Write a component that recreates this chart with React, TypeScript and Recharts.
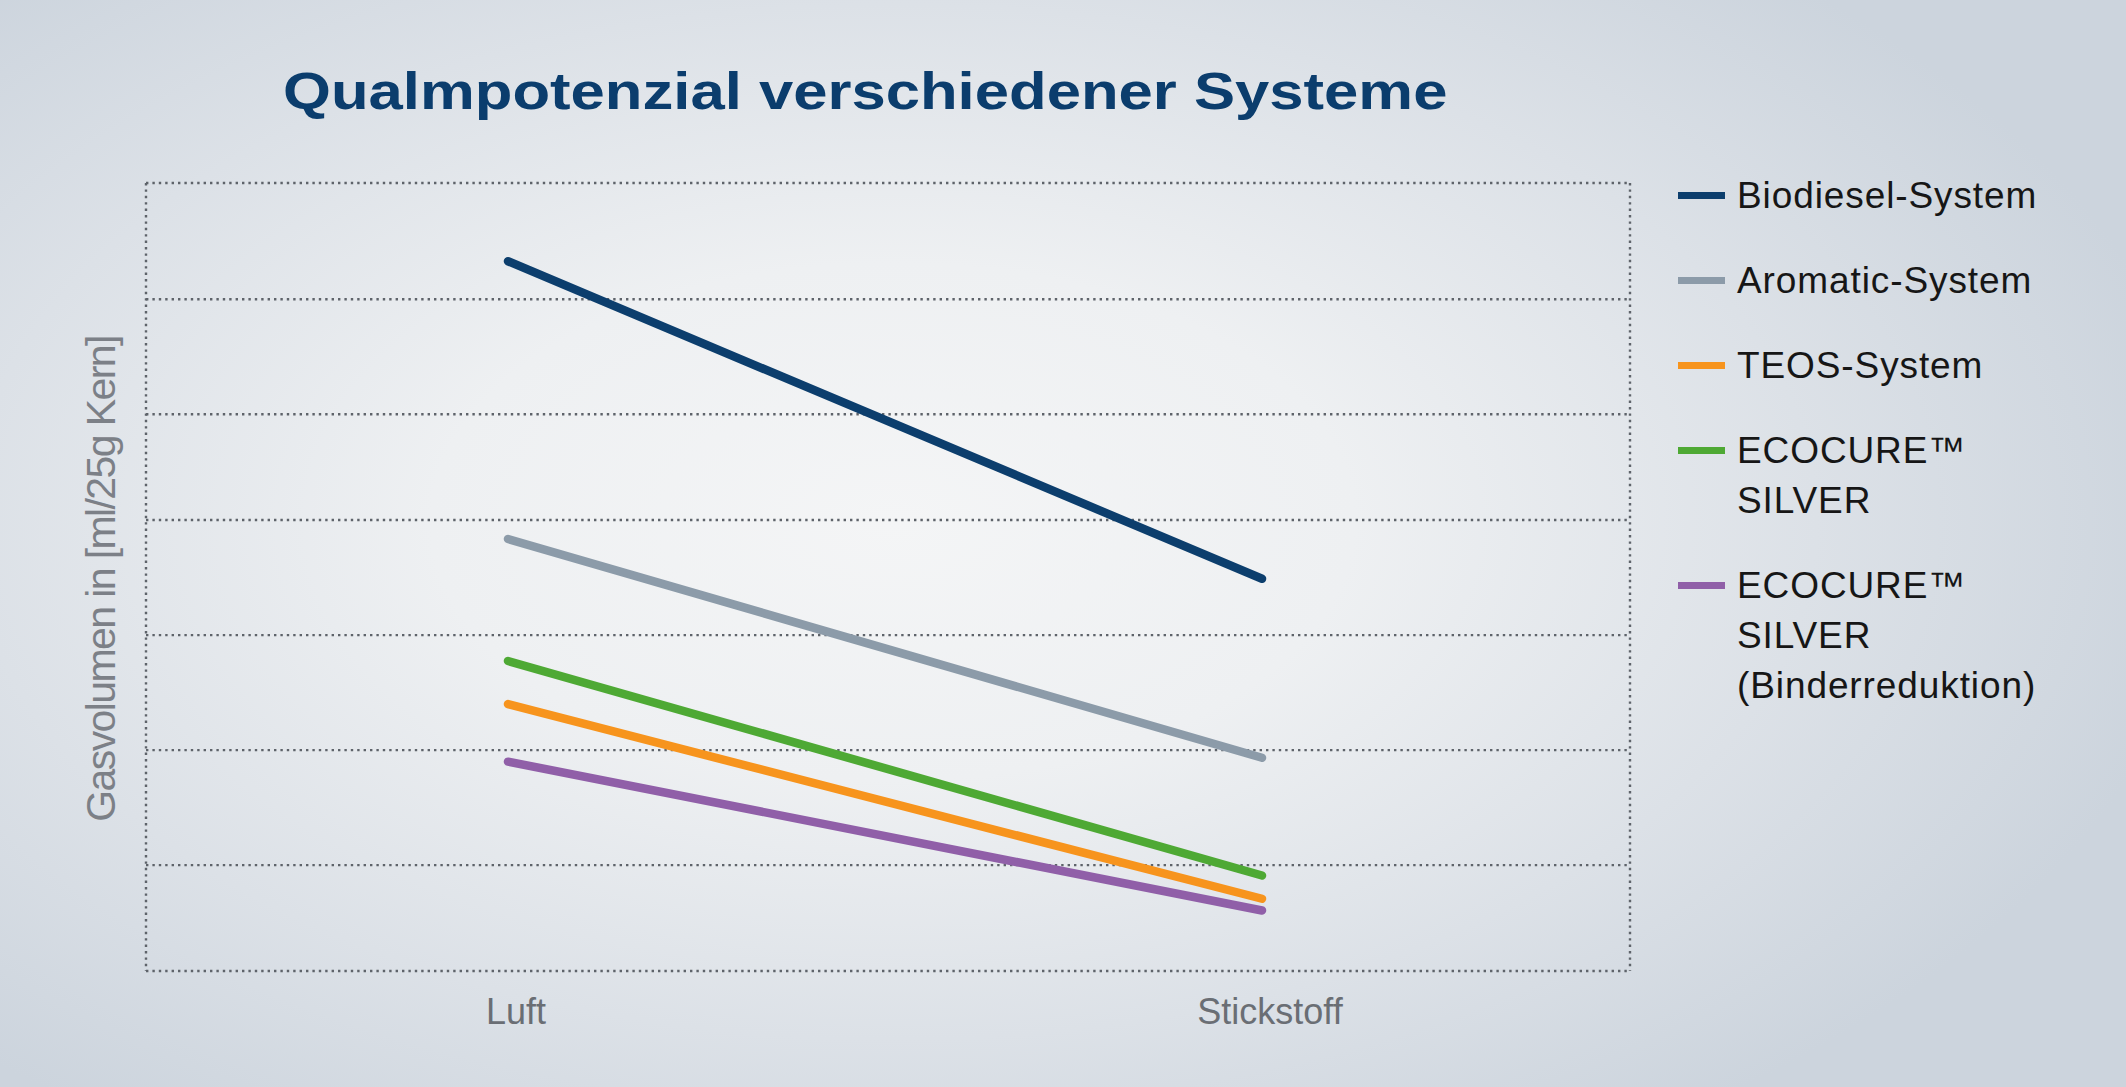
import React from 'react';
import {
  LineChart,
  Line,
  XAxis,
  YAxis,
  Legend,
  ReferenceLine,
} from 'recharts';

const categories = ['Luft', 'Stickstoff'];
const biodiesel = [6.17, 3.41];
const aromatic = [3.755, 1.854];
const teos = [2.32, 0.628];
const ecocure = [2.695, 0.83];
const ecocureBinder = [1.82, 0.526];
const yTicks = [0, 0.92, 1.92, 2.92, 3.92, 4.84, 5.84, 6.85];

const seriesKeys = ['biodiesel', 'aromatic', 'teos', 'ecocure', 'ecocureBinder'];
const seriesNames = [
  'Biodiesel-System',
  'Aromatic-System',
  'TEOS-System',
  'ECOCURE™\nSILVER',
  'ECOCURE™\nSILVER\n(Binderreduktion)',
];
const seriesColors = ['#0c3e6d', '#8c9ba9', '#f7941d', '#4ea934', '#905fa8'];
const seriesValues = [biodiesel, aromatic, teos, ecocure, ecocureBinder];

const data = categories.map((name, i) => {
  const row: Record<string, string | number> = { name };
  seriesKeys.forEach((k, s) => {
    row[k] = seriesValues[s][i];
  });
  return row;
});

const FONT = '"Liberation Sans", Arial, Helvetica, sans-serif';
const DOT = '2.4 4';
const DOT_COLOR = '#5e636a';
const DOT_W = 2.4;

const LegendContent = () => (
  <div style={{ fontFamily: FONT }}>
    {seriesKeys.map((k, i) => (
      <div
        key={k}
        style={{ display: 'flex', alignItems: 'flex-start', marginBottom: 35 }}
      >
        <div
          style={{
            width: 47,
            height: 7,
            background: seriesColors[i],
            marginTop: 21,
            marginRight: 12,
            flex: 'none',
          }}
        />
        <div
          style={{
            fontSize: 37,
            lineHeight: '50px',
            color: '#161616',
            whiteSpace: 'pre-line',
            letterSpacing: 0.9,
          }}
        >
          {seriesNames[i]}
        </div>
      </div>
    ))}
  </div>
);

const YLabel = (props: any) => {
  const vb = props.viewBox || {};
  const cx = (vb.x || 0) + (vb.width || 0) - 45;
  const cy = (vb.y || 0) + (vb.height || 0) / 2 + 2;
  return (
    <text
      x={cx}
      y={cy}
      transform={`rotate(-90 ${cx} ${cy})`}
      textAnchor="middle"
      dominantBaseline="central"
      fill="#7c8087"
      fontSize={41}
      letterSpacing={-1.6}
      fontFamily={FONT}
    >
      Gasvolumen in [ml/25g Kern]
    </text>
  );
};

const dottedAxis = { stroke: DOT_COLOR, strokeWidth: DOT_W, strokeDasharray: DOT };

export default function App() {
  return (
    <div
      style={{
        position: 'absolute',
        left: 0,
        top: 0,
        width: 2126,
        height: 1087,
        overflow: 'hidden',
        background:
          'radial-gradient(ellipse 62% 68% at 42% 48%, #f4f5f6 0%, #eef0f2 35%, #dce1e7 70%, #ccd4dd 100%)',
      }}
    >
      <div
        style={{
          position: 'absolute',
          left: 283,
          top: 65,
          fontFamily: FONT,
          fontWeight: 700,
          fontSize: 52,
          lineHeight: '52px',
          color: '#0b3d6d',
          whiteSpace: 'nowrap',
          transform: 'scaleX(1.185)',
          transformOrigin: 'left top',
        }}
      >
        Qualmpotenzial verschiedener Systeme
      </div>
      <div style={{ position: 'absolute', left: 0, top: 0 }}>
        <LineChart
          width={2126}
          height={1087}
          data={data}
          margin={{ top: 183, right: 494, bottom: 86, left: 0 }}
        >
          <XAxis
            dataKey="name"
            height={30}
            padding={{ left: 362, right: 368 }}
            axisLine={false}
            tickLine={false}
            tickSize={0}
            tickMargin={27}
            tick={{ fill: '#6a6e74', fontSize: 36, fontFamily: FONT, dx: 8 }}
          />
          <YAxis
            yAxisId="left"
            type="number"
            domain={[0, 6.85]}
            ticks={yTicks}
            width={146}
            tick={false}
            tickLine={false}
            axisLine={dottedAxis}
            label={<YLabel />}
          />
          <YAxis
            yAxisId="right"
            orientation="right"
            type="number"
            domain={[0, 6.85]}
            ticks={yTicks}
            width={2}
            tick={false}
            tickLine={false}
            axisLine={dottedAxis}
          />
          {yTicks.map((v) => (
            <ReferenceLine
              key={v}
              yAxisId="left"
              y={v}
              stroke={DOT_COLOR}
              strokeWidth={DOT_W}
              strokeDasharray={DOT}
            />
          ))}
          <Legend
            layout="vertical"
            align="center"
            verticalAlign="middle"
            content={<LegendContent />}
            wrapperStyle={{ left: 1678, top: 171, width: 420, height: 'auto' }}
          />
          {seriesKeys.map((k, i) => (
            <Line
              key={k}
              yAxisId="left"
              dataKey={k}
              name={seriesNames[i]}
              stroke={seriesColors[i]}
              strokeWidth={8.5}
              strokeLinecap="round"
              dot={false}
              activeDot={false}
              isAnimationActive={false}
            />
          ))}
        </LineChart>
      </div>
    </div>
  );
}
